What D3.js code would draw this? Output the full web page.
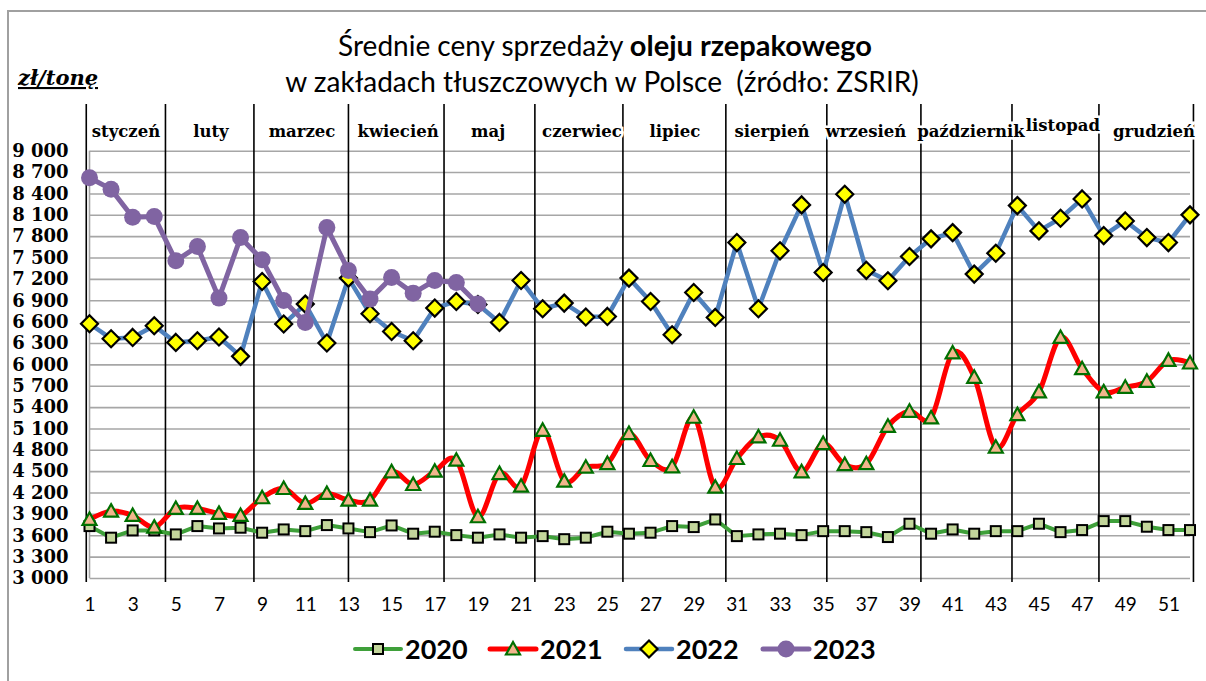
<!DOCTYPE html>
<html>
<head>
<meta charset="utf-8">
<script src="https://cdn.jsdelivr.net/npm/d3@7"></script>
<style>
  html, body { margin: 0; padding: 0; background: #fff; }
  svg { display: block; }
</style>
</head>
<body>
<script>
// ---------- DATA ----------
const weeks = d3.range(1, 53);
const xTickLabels = d3.range(1, 53, 2);
const yTickValues = d3.range(3000, 9001, 300);
const seriesNames = ["2020", "2021", "2022", "2023"];
const s2020 = [3729,3566,3668,3668,3612,3729,3696,3706,3636,3682,3658,3743,3696,3644,3738,3622,3650,3602,3566,3612,3566,3588,3545,3566,3650,3622,3636,3729,3715,3822,3588,3612,3622,3602,3658,3658,3644,3575,3762,3622,3682,3622,3658,3658,3762,3644,3673,3799,3799,3720,3673,3673];
const s2021 = [3822,3939,3878,3714,3977,3977,3907,3878,4127,4257,4047,4187,4093,4093,4491,4313,4500,4654,3860,4467,4289,5074,4360,4556,4607,5028,4650,4561,5257,4275,4678,4981,4934,4491,4888,4593,4605,5130,5341,5248,6160,5818,4836,5294,5613,6378,5939,5613,5678,5762,6056,6019];
const s2022 = [6570,6360,6378,6542,6308,6332,6384,6112,7163,6566,6846,6300,7211,6710,6462,6332,6790,6883,6840,6589,7177,6781,6860,6664,6673,7211,6883,6416,7009,6659,7710,6781,7594,8239,7290,8389,7320,7173,7514,7762,7850,7267,7561,8229,7874,8052,8323,7808,8014,7780,7710,8099];
const s2023 = [8620,8460,8066,8075,7454,7654,6930,7780,7468,6897,6589,7920,7318,6916,7220,7000,7177,7150,6846];
const months = ["styczeń","luty","marzec","kwiecień","maj","czerwiec","lipiec","sierpień","wrzesień","październik","listopad","grudzień"];
const monthLabelWeeks = [2.69, 6.63, 10.85, 15.30, 19.47, 23.82, 28.13, 32.63, 36.98, 41.85, 46.11, 50.33];
const monthBoundaries = [0.85, 4.52, 8.62, 13.0, 17.43, 21.64, 25.72, 30.49, 35.17, 39.53, 43.75, 47.78, 52.16];
const titleLine1 = ["Średnie ceny sprzedaży ", "oleju rzepakowego"];
const titleLine2 = "w zakładach tłuszczowych w Polsce  (źródło: ZSRIR)";
const unitLabel = "zł/tonę";

// ---------- SETUP ----------
const W = 1206, H = 681;
const svg = d3.select("body").append("svg").attr("width", W).attr("height", H);
svg.append("rect").attr("width", W).attr("height", H).attr("fill", "#fff");
// outer chart border
svg.append("rect").attr("x", 8).attr("y", 11).attr("width", W + 10).attr("height", H + 10)
  .attr("fill", "none").attr("stroke", "#a0a0a0").attr("stroke-width", 2);

const x = d3.scaleLinear().domain([1, 52]).range([89.5, 1190]);
const y = d3.scaleLinear().domain([3000, 9000]).range([578, 150.7]);

// Title
const t1 = svg.append("text").attr("x", 605).attr("y", 56).attr("text-anchor", "middle")
  .attr("font-family", "Lato, 'Open Sans', sans-serif").attr("font-size", 28).attr("fill", "#000");
t1.append("tspan").text(titleLine1[0]);
t1.append("tspan").attr("font-weight", "bold").attr("font-size", 29).text(titleLine1[1]);
svg.append("text").attr("x", 602).attr("y", 92).attr("text-anchor", "middle")
  .attr("font-family", "Lato, 'Open Sans', sans-serif").attr("font-size", 28).attr("fill", "#000")
  .attr("xml:space", "preserve").style("white-space", "pre").text(titleLine2);

// unit label
svg.append("text").attr("x", 18).attr("y", 85)
  .attr("font-family", "'DejaVu Serif', serif").attr("font-weight", "bold").attr("font-style", "italic")
  .attr("font-size", 21).attr("text-decoration", "underline").attr("fill", "#000").text(unitLabel);

// Y axis with gridlines
const yAxis = svg.append("g").attr("transform", `translate(${x(1)},0)`)
  .call(d3.axisLeft(y).tickValues(yTickValues).tickSize(-(x(52) - x(1))).tickPadding(21)
    .tickFormat(v => d3.format(",")(v).replace(/,/g, " ")));
yAxis.select(".domain").remove();
yAxis.selectAll(".tick line").attr("stroke", "#a6a6a6").attr("stroke-width", 1.6);
yAxis.selectAll(".tick text").attr("font-family", "'DejaVu Serif', serif").attr("font-weight", "bold")
  .attr("font-size", 18).attr("fill", "#000");
// plot-area left edge
svg.append("line").attr("x1", x(1)).attr("x2", x(1)).attr("y1", y(9000)).attr("y2", y(3000))
  .attr("stroke", "#a6a6a6").attr("stroke-width", 1.6);

// X axis labels
const xAxis = svg.append("g").attr("transform", `translate(0,${y(3000)})`)
  .call(d3.axisBottom(x).tickValues(xTickLabels).tickSize(0).tickPadding(20).tickFormat(d3.format("d")));
xAxis.select(".domain").remove();
xAxis.selectAll(".tick text").attr("font-family", "Lato, 'Open Sans', sans-serif").attr("font-size", 19).attr("fill", "#000");

// Month separators
svg.append("g").selectAll("line").data(monthBoundaries).join("line")
  .attr("x1", d => x(d)).attr("x2", d => x(d)).attr("y1", 104).attr("y2", 582)
  .attr("stroke", "#000").attr("stroke-width", 1.6);

// Month labels (white halo covers separators like text boxes)
svg.append("g").selectAll("text").data(months).join("text")
  .attr("x", (d, i) => x(monthLabelWeeks[i]))
  .attr("y", (d, i) => i === 10 ? 131 : 137).attr("text-anchor", "middle")
  .attr("font-family", "'DejaVu Serif', serif").attr("font-weight", "bold").attr("font-size", 16.5)
  .attr("fill", "#000").attr("stroke", "#fff").attr("stroke-width", 5).attr("paint-order", "stroke")
  .text(d => d);

// ---------- SERIES ----------
const series = [
  { name: seriesNames[0], values: s2020, color: "#3fa03a", width: 4, curve: d3.curveLinear, marker: "square" },
  { name: seriesNames[1], values: s2021, color: "#ff0000", width: 5, curve: d3.curveCardinal.tension(0), marker: "triangle" },
  { name: seriesNames[2], values: s2022, color: "#4f81bd", width: 4.5, curve: d3.curveLinear, marker: "diamond" },
  { name: seriesNames[3], values: s2023, color: "#8064a2", width: 5, curve: d3.curveLinear, marker: "circle" }
];

function drawMarker(g, type, cx, cy) {
  if (type === "square") {
    g.append("rect").attr("x", cx - 5).attr("y", cy - 5).attr("width", 10).attr("height", 10)
      .attr("fill", "#c3d69b").attr("stroke", "#000").attr("stroke-width", 2);
  } else if (type === "triangle") {
    g.append("path").attr("d", `M${cx},${cy - 7}L${cx + 7},${cy + 5.5}L${cx - 7},${cy + 5.5}Z`)
      .attr("fill", "#f2b58c").attr("stroke", "#007000").attr("stroke-width", 2.2);
  } else if (type === "diamond") {
    g.append("path").attr("d", `M${cx},${cy - 8.5}L${cx + 8.5},${cy}L${cx},${cy + 8.5}L${cx - 8.5},${cy}Z`)
      .attr("fill", "#ffff00").attr("stroke", "#000").attr("stroke-width", 2.2);
  } else {
    g.append("circle").attr("cx", cx).attr("cy", cy).attr("r", 8.5).attr("fill", "#8064a2");
  }
}

const gSeries = svg.append("g");
series.forEach(s => {
  const pts = s.values.map((v, i) => [weeks[i], v]);
  const line = d3.line().x(d => x(d[0])).y(d => y(d[1])).curve(s.curve);
  const g = gSeries.append("g");
  g.append("path").attr("d", line(pts)).attr("fill", "none").attr("stroke", s.color)
    .attr("stroke-width", s.width).attr("stroke-linejoin", "round").attr("stroke-linecap", "round");
  pts.forEach(p => drawMarker(g, s.marker, x(p[0]), y(p[1])));
});

// ---------- LEGEND ----------
const legendX = [355, 490, 626, 763];
const leg = svg.append("g");
series.forEach((s, i) => {
  const lx = legendX[i], ly = 649;
  const g = leg.append("g");
  g.append("line").attr("x1", lx).attr("x2", lx + 46).attr("y1", ly).attr("y2", ly)
    .attr("stroke", s.color).attr("stroke-width", s.width).attr("stroke-linecap", "round");
  drawMarker(g, s.marker, lx + 23, ly);
  g.append("text").attr("x", lx + 50).attr("y", ly + 10)
    .attr("font-family", "Lato, 'Open Sans', sans-serif").attr("font-weight", "bold").attr("font-size", 27)
    .attr("fill", "#000").text(s.name);
});
</script>
</body>
</html>
